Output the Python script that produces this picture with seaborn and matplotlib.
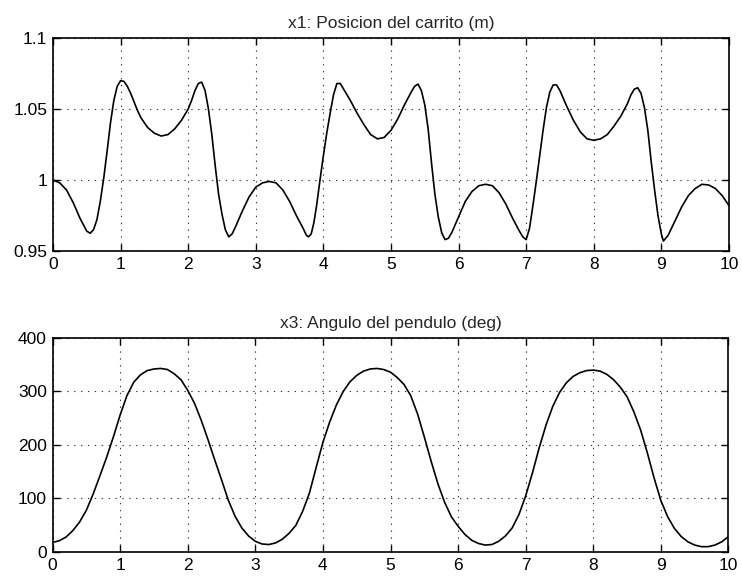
import numpy as np
import pandas as pd
import matplotlib
matplotlib.use("Agg")
import matplotlib.pyplot as plt
import seaborn as sns

# ---- data ----
t1 = [0.0, 0.1, 0.2, 0.3, 0.4, 0.5, 0.55, 0.6, 0.65, 0.7, 0.75, 0.8, 0.85, 0.9, 0.95,
      1.0, 1.05, 1.1, 1.15, 1.2, 1.25, 1.3, 1.4, 1.5, 1.6, 1.7, 1.8, 1.9, 2.0, 2.05,
      2.1, 2.15, 2.2, 2.25, 2.3, 2.35, 2.4, 2.45, 2.5, 2.55, 2.6, 2.65, 2.7, 2.8, 2.9,
      3.0, 3.1, 3.2, 3.3, 3.4, 3.5, 3.6, 3.7, 3.75, 3.78, 3.82, 3.86, 3.9, 3.95, 4.0,
      4.05, 4.1, 4.15, 4.2, 4.25, 4.3, 4.4, 4.5, 4.6, 4.7, 4.8, 4.9, 5.0, 5.1, 5.2,
      5.3, 5.35, 5.4, 5.45, 5.5, 5.55, 5.6, 5.65, 5.7, 5.75, 5.8, 5.85, 5.9, 6.0, 6.1,
      6.2, 6.3, 6.4, 6.5, 6.6, 6.7, 6.8, 6.9, 6.95, 7.0, 7.05, 7.1, 7.15, 7.2, 7.25,
      7.3, 7.35, 7.4, 7.45, 7.5, 7.6, 7.7, 7.8, 7.9, 8.0, 8.1, 8.2, 8.3, 8.4, 8.5,
      8.55, 8.6, 8.65, 8.7, 8.75, 8.8, 8.85, 8.9, 8.95, 9.0, 9.03, 9.1, 9.2, 9.3, 9.4,
      9.5, 9.6, 9.7, 9.8, 9.9, 10.0]
x1 = [1.000, 0.998, 0.993, 0.984, 0.973, 0.964, 0.9625, 0.965, 0.972, 0.985, 1.001, 1.020, 1.040, 1.056, 1.066,
      1.0700, 1.0695, 1.066, 1.061, 1.055, 1.049, 1.044, 1.037, 1.033, 1.031, 1.032, 1.036, 1.042, 1.050, 1.056,
      1.063, 1.068, 1.069, 1.063, 1.050, 1.032, 1.010, 0.990, 0.976, 0.965, 0.960, 0.962, 0.967, 0.978, 0.988,
      0.995, 0.998, 0.999, 0.998, 0.993, 0.985, 0.975, 0.966, 0.961, 0.960, 0.962, 0.970, 0.982, 1.000, 1.017,
      1.033, 1.047, 1.060, 1.068, 1.068, 1.064, 1.056, 1.047, 1.039, 1.032, 1.029, 1.030, 1.035, 1.043, 1.053,
      1.062, 1.066, 1.0676, 1.063, 1.053, 1.036, 1.012, 0.990, 0.974, 0.963, 0.958, 0.959, 0.963, 0.974, 0.985,
      0.992, 0.996, 0.997, 0.996, 0.991, 0.983, 0.973, 0.964, 0.960, 0.958, 0.966, 0.982, 0.999, 1.017, 1.035,
      1.051, 1.062, 1.067, 1.067, 1.063, 1.052, 1.042, 1.034, 1.029, 1.028, 1.029, 1.032, 1.038, 1.045, 1.054,
      1.060, 1.064, 1.065, 1.061, 1.051, 1.035, 1.013, 0.993, 0.975, 0.962, 0.957, 0.961, 0.971, 0.981, 0.989,
      0.994, 0.997, 0.9965, 0.994, 0.989, 0.982]

t3 = [round(0.1 * i, 1) for i in range(101)]
x3 = [18, 21, 28, 40, 56, 78, 108, 142, 177, 215,
      256, 292, 317, 331, 339, 342, 343, 341, 333, 322,
      302, 278, 246, 210, 172, 135, 97, 67, 45, 30,
      20, 15, 14, 17, 24, 35, 50, 76, 110, 158,
      205, 243, 275, 300, 318, 330, 338, 342, 343, 341,
      336, 326, 313, 292, 258, 215, 170, 128, 93, 66,
      48, 33, 22, 16, 13, 14, 20, 30, 45, 70,
      105, 148, 195, 237, 272, 298, 316, 328, 335, 339,
      340, 338, 332, 322, 308, 290, 262, 228, 185, 138,
      96, 66, 44, 29, 19, 13, 10, 10, 13, 19,
      29]

title1 = "x1: Posicion del carrito (m)"
title3 = "x3: Angulo del pendulo (deg)"
xticks = list(range(0, 11))
yticks1 = [0.95, 1.0, 1.05, 1.1]
yticklabels1 = ["0.95", "1", "1.05", "1.1"]
yticks3 = [0, 100, 200, 300, 400]

sns.set_style("white")
plt.rcParams["font.family"] = ["Liberation Sans", "DejaVu Sans"]

fig = plt.figure(figsize=(7.42, 5.77), dpi=100)
ax1 = fig.add_axes([0.0714, 0.565, 0.911, 0.369])
ax3 = fig.add_axes([0.0708, 0.0433, 0.911, 0.371])

df1 = pd.DataFrame({"t": t1, "x1": x1})
df3 = pd.DataFrame({"t": t3, "x3": x3})

sns.lineplot(data=df1, x="t", y="x1", ax=ax1, color="black", lw=1.2,
             estimator=None, sort=False)
sns.lineplot(data=df3, x="t", y="x3", ax=ax3, color="black", lw=1.2,
             estimator=None, sort=False)

for ax, ttl in ((ax1, title1), (ax3, title3)):
    ax.set_xlim(0, 10)
    ax.set_xticks(xticks)
    ax.set_xticklabels([str(v) for v in xticks])
    ax.set_xlabel("")
    ax.set_ylabel("")
    ax.set_title(ttl, fontsize=12.5, pad=7)
    ax.grid(True, color="#333333", linestyle=(0, (1.2, 5)), linewidth=0.8)
    ax.tick_params(direction="in", length=5, width=1, top=True, right=True,
                   bottom=True, left=True, labelsize=12.5, pad=4, colors="black")
    for s in ax.spines.values():
        s.set_visible(True)
        s.set_color("black")
        s.set_linewidth(1.2)

ax1.set_ylim(0.95, 1.1)
ax1.set_yticks(yticks1)
ax1.set_yticklabels(yticklabels1)
ax3.set_ylim(0, 400)
ax3.set_yticks(yticks3)
ax3.set_yticklabels([str(v) for v in yticks3])

fig.savefig("out.png", dpi=100)
